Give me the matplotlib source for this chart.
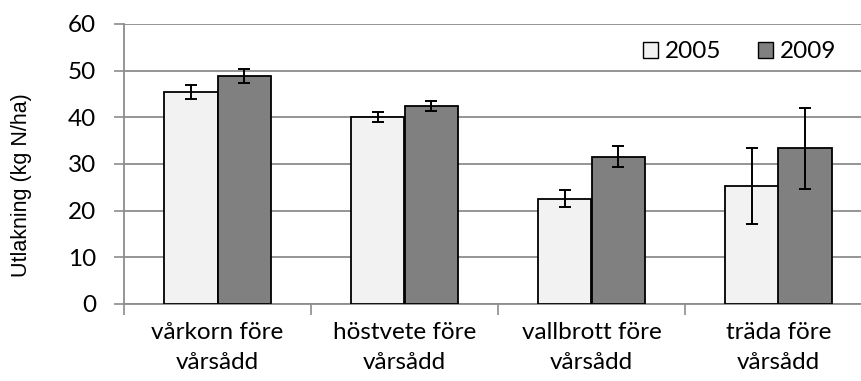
import matplotlib
matplotlib.use("Agg")
import matplotlib.pyplot as plt
from matplotlib.patches import Patch
import numpy as np

categories = ["vårkorn före\nvårsådd", "höstvete före\nvårsådd",
              "vallbrott före\nvårsådd", "träda före\nvårsådd"]
years = ["2005", "2009"]
leach_2005 = [45.5, 40.1, 22.6, 25.3]
leach_2009 = [48.9, 42.4, 31.6, 33.4]
err_2005 = [1.5, 1.1, 1.9, 8.2]
err_2009 = [1.5, 1.1, 2.3, 8.7]

light = "#f2f2f2"
dark = "#808080"
grid_col = "#8c8c8c"

plt.rcParams["font.family"] = ["Lato", "DejaVu Sans"]

fig = plt.figure(figsize=(8.61, 3.81), dpi=100)
ax = fig.add_axes([124 / 861, 77 / 381, 748 / 861, 280 / 381])

x = np.arange(len(categories))
w = 0.285
errkw = dict(ecolor="black", elinewidth=1.4, capsize=4.3, capthick=1.4)
ax.bar(x - w / 2, leach_2005, w, yerr=err_2005, color=light,
       edgecolor="black", linewidth=1.3, error_kw=errkw, zorder=3)
ax.bar(x + w / 2, leach_2009, w, yerr=err_2009, color=dark,
       edgecolor="black", linewidth=1.3, error_kw=errkw, zorder=3)

ax.set_xlim(-0.5, len(categories) - 0.5)
ax.set_ylim(0, 60)
ax.set_yticks(range(0, 61, 10))
ax.yaxis.grid(True, color=grid_col, linewidth=1.3)
ax.set_axisbelow(True)

# category labels centred, ticks on the boundaries between groups
ax.set_xticks(x)
ax.set_xticklabels(categories, fontsize=17.5, linespacing=1.5)
ax.set_xticks(np.arange(len(categories)) - 0.5, minor=True)
ax.tick_params(axis="x", which="major", length=0, pad=13)
ax.tick_params(axis="x", which="minor", length=8, width=1.2, color=grid_col)
ax.tick_params(axis="y", length=7, width=1.2, color=grid_col,
               labelsize=17.5, pad=13)

for s in ["top", "right"]:
    ax.spines[s].set_visible(False)
for s in ["left", "bottom"]:
    ax.spines[s].set_color(grid_col)
    ax.spines[s].set_linewidth(1.3)

fig.text(22 / 861, 1 - 185 / 381, "Utlakning (kg N/ha)", rotation=90,
         ha="center", va="center", fontsize=15.5, family="Liberation Sans")

handles = [Patch(facecolor=light, edgecolor="black", linewidth=1.0),
           Patch(facecolor=dark, edgecolor="black", linewidth=1.0)]
fig.legend(handles, years, loc="center", bbox_to_anchor=(740 / 861, 1 - 52 / 381),
           ncol=2, frameon=False, fontsize=17.5, handlelength=0.6,
           handleheight=0.6, handletextpad=0.3, columnspacing=1.5)

fig.savefig("out.png", dpi=100)
